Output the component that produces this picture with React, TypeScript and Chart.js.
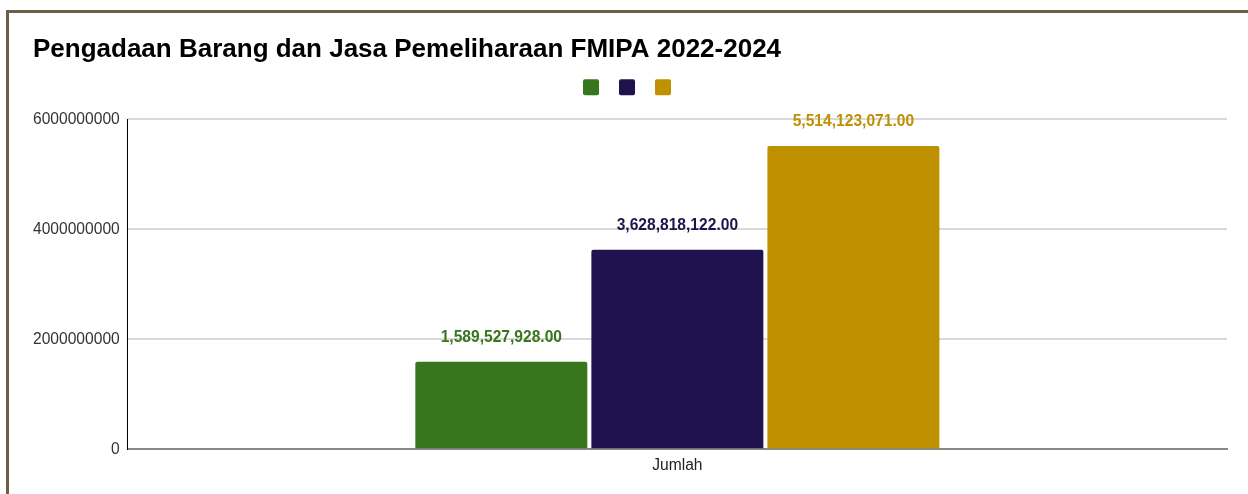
import React, { useEffect, useRef } from "react";
import { Chart, registerables } from "chart.js";

Chart.register(...registerables);

const categories = ["Jumlah"];
const seriesNames = ["2022", "2023", "2024"];
const seriesValues = [[1589527928], [3628818122], [5514123071]];
const seriesColors = ["#38761d", "#20124d", "#bf9000"];
const yTicks = [0, 2000000000, 4000000000, 6000000000];
const titleText = "Pengadaan Barang dan Jasa Pemeliharaan FMIPA 2022-2024";

const FONT = "'Liberation Sans', Arial, Helvetica, sans-serif";

const valueLabels = {
  id: "valueLabels",
  afterDatasetsDraw(chart: any) {
    const ctx = chart.ctx;
    ctx.save();
    ctx.font = `bold 15.6px ${FONT}`;
    ctx.textAlign = "center";
    ctx.textBaseline = "middle";
    chart.data.datasets.forEach((ds: any, i: number) => {
      const meta = chart.getDatasetMeta(i);
      meta.data.forEach((el: any, j: number) => {
        const v = ds.data[j];
        const txt = v.toLocaleString("en-US", { minimumFractionDigits: 2, maximumFractionDigits: 2 });
        ctx.fillStyle = ds.backgroundColor;
        ctx.fillText(txt, el.x, el.y - 24);
      });
    });
    ctx.restore();
  },
};

const legendSpacer = {
  id: "legendSpacer",
  beforeUpdate(chart: any) {
    const lg = chart.legend;
    if (lg && !lg._spacerPatched) {
      const orig = lg.fit.bind(lg);
      lg.fit = function () {
        orig();
        this.height += 14;
      };
      lg._spacerPatched = true;
    }
  },
};

export default function App() {
  const ref = useRef<HTMLCanvasElement>(null);
  useEffect(() => {
    document.body.style.overflow = "hidden";
    const chart = new Chart(ref.current!, {
      type: "bar",
      data: {
        labels: categories,
        datasets: seriesNames.map((n, i) => ({
          label: n,
          data: seriesValues[i],
          backgroundColor: seriesColors[i],
          borderRadius: 2,
          borderSkipped: "bottom",
          categoryPercentage: 0.4804,
          barPercentage: 0.977,
        })),
      },
      options: {
        animation: false,
        responsive: false,
        maintainAspectRatio: false,
        layout: { padding: { left: 24, right: 21, top: 21, bottom: 12 } },
        plugins: {
          title: {
            display: true,
            text: titleText,
            align: "start",
            color: "#000",
            font: { family: FONT, size: 26, weight: "bold" },
            padding: { top: 0, bottom: 0 },
          },
          legend: {
            display: true,
            position: "top",
            align: "center",
            labels: {
              boxWidth: 16,
              boxHeight: 16,
              padding: 14,
              useBorderRadius: true,
              borderRadius: 2,
              font: { family: FONT, size: 12 },
              generateLabels: (chart: any) =>
                chart.data.datasets.map((ds: any, i: number) => ({
                  text: "",
                  fillStyle: ds.backgroundColor,
                  strokeStyle: ds.backgroundColor,
                  lineWidth: 0,
                  datasetIndex: i,
                  borderRadius: 2,
                })),
            },
          },
          tooltip: { enabled: false },
        },
        scales: {
          x: {
            grid: { display: false, drawTicks: false },
            border: { color: "#888", width: 2 },
            ticks: { color: "#222", font: { family: FONT, size: 15.6 }, padding: 7 },
          },
          y: {
            min: 0,
            max: 6000000000,
            afterBuildTicks: (axis: any) => {
              axis.ticks = yTicks.map((v) => ({ value: v }));
            },
            afterFit: (axis: any) => {
              axis.width = axis.width - 8;
            },
            grid: { color: "#d9d9d9", lineWidth: 2, drawTicks: false },
            border: { color: "#000", width: 1 },
            ticks: {
              color: "#333",
              font: { family: FONT, size: 15.6 },
              padding: 8,
              callback: (v: any) => String(v),
            },
          },
        },
      },
      plugins: [legendSpacer, valueLabels],
    });
    return () => chart.destroy();
  }, []);
  return (
    <div
      style={{
        position: "absolute",
        left: 6,
        top: 10,
        width: 1242,
        height: 484,
        boxSizing: "border-box",
        borderLeft: "3px solid #6e5e48",
        borderTop: "3px solid #6e5e48",
        background: "#fff",
      }}
    >
      <canvas ref={ref} width={1239} height={481} style={{ display: "block" }} />
    </div>
  );
}
